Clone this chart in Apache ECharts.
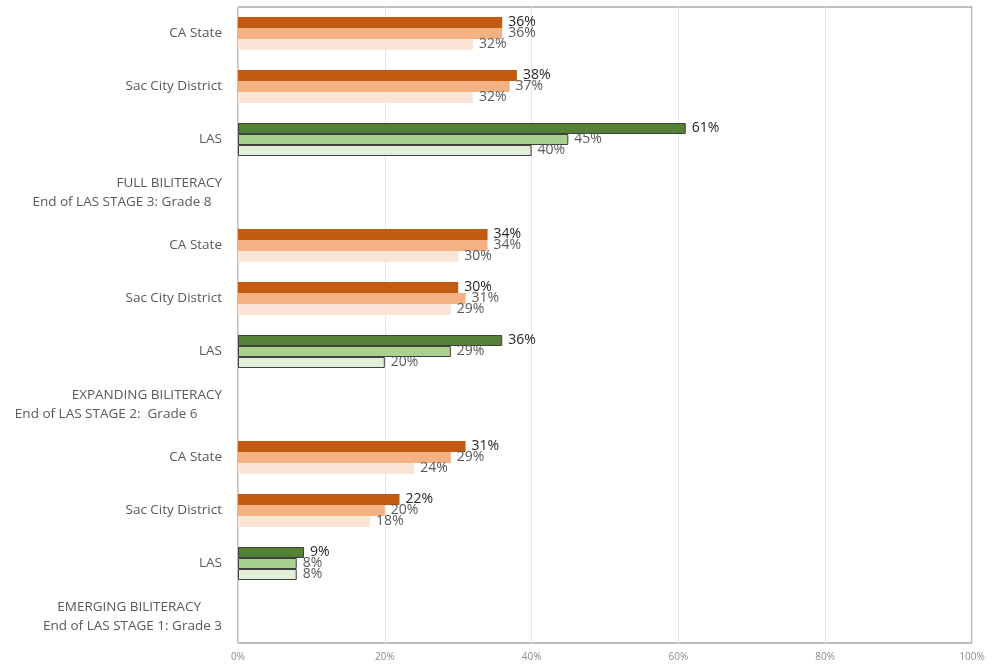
<!DOCTYPE html>
<html>
<head>
<meta charset="utf-8">
<script src="https://cdn.jsdelivr.net/npm/echarts@6/dist/echarts.min.js"></script>
<style>
html,body{margin:0;padding:0;background:#fff;}
#chart{width:994px;height:669px;}
</style>
</head>
<body>
<div id="chart"></div>
<script>
// Categories, top to bottom
const categories = [
  'CA State', 'Sac City District', 'LAS',
  'FULL BILITERACY\nEnd of LAS STAGE 3: Grade 8   ',
  'CA State', 'Sac City District', 'LAS',
  'EXPANDING BILITERACY\nEnd of LAS STAGE 2:  Grade 6       ',
  'CA State', 'Sac City District', 'LAS',
  'EMERGING BILITERACY      \nEnd of LAS STAGE 1: Grade 3'
];
// Three bars per group (top, middle, bottom), values in percent
const valuesTop    = [36, 38, 61, null, 34, 30, 36, null, 31, 22, 9, null];
const valuesMiddle = [36, 37, 45, null, 34, 31, 29, null, 29, 20, 8, null];
const valuesBottom = [32, 32, 40, null, 30, 29, 20, null, 24, 18, 8, null];
const xTicks = [0, 20, 40, 60, 80, 100];

const orange = ['#C55A11', '#F4B183', '#FBE5D6'];
const green  = ['#538135', '#A9D18E', '#E2F0D9'];

function buildData(values, level) {
  return values.map((v, i) => {
    const isLAS = categories[i] === 'LAS';
    return {
      value: v,
      itemStyle: isLAS
        ? { color: green[level], borderColor: '#3f3f3f', borderWidth: 1 }
        : { color: orange[level], borderWidth: 0 }
    };
  });
}

const labelColors = ['#262626', '#595959', '#595959'];
const seriesValues = [valuesTop, valuesMiddle, valuesBottom];

const chart = echarts.init(document.getElementById('chart'), null, { renderer: 'canvas' });
chart.setOption({
  animation: false,
  backgroundColor: '#fff',
  grid: {
    left: 238, right: 22, top: 7, bottom: 26,
    show: true, borderColor: '#7f7f7f', borderWidth: 1, backgroundColor: 'transparent'
  },
  xAxis: {
    type: 'value', min: 0, max: 100, interval: 20,
    axisLine: { show: false },
    axisTick: { show: false },
    splitLine: { show: true, lineStyle: { color: '#e6e6e6', width: 1 } },
    axisLabel: {
      formatter: v => xTicks.includes(v) ? v + '%' : '',
      color: '#8c8c8c', fontSize: 10, fontFamily: 'Open Sans', margin: 9
    }
  },
  yAxis: {
    type: 'category', inverse: true, data: categories,
    axisLine: { show: true, lineStyle: { color: '#d9d9d9' } },
    axisTick: { show: false },
    axisLabel: {
      color: '#595959', fontSize: 13.5, fontFamily: 'Open Sans', margin: 16,
      lineHeight: 19, interval: 0
    }
  },
  series: seriesValues.map((vals, level) => ({
    type: 'bar',
    data: buildData(vals, level),
    barWidth: 11,
    barGap: '0%',
    label: {
      show: true, position: 'right', distance: 6,
      formatter: p => p.value == null ? '' : p.value + '%',
      color: labelColors[level], fontSize: 14, fontFamily: 'Open Sans'
    }
  }))
});
</script>
</body>
</html>
